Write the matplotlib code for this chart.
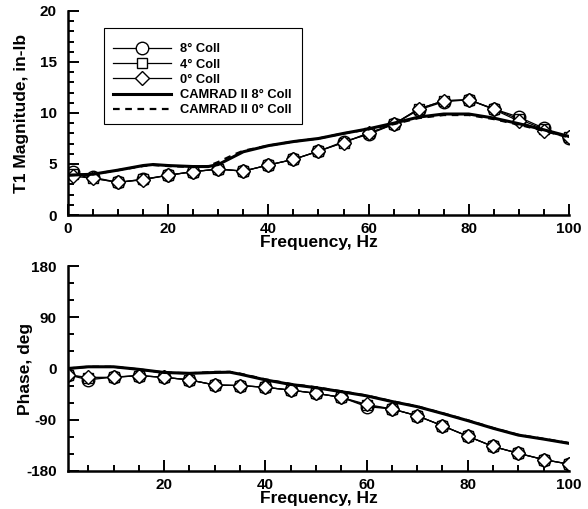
import matplotlib
matplotlib.use("Agg")
import matplotlib.pyplot as plt
from matplotlib.ticker import MultipleLocator
from matplotlib.patches import Rectangle

plt.rcParams['font.family'] = ['Liberation Sans', 'DejaVu Sans']
plt.rcParams['font.weight'] = 'bold'
plt.rcParams['axes.unicode_minus'] = False

freq = [1, 5, 10, 15, 20, 25, 30, 35, 40, 45, 50, 55, 60, 65, 70, 75, 80, 85, 90, 95, 100]

mag_8 = [4.2, 3.7, 3.2, 3.5, 3.9, 4.25, 4.5, 4.3, 4.9, 5.45, 6.25, 7.2, 7.9, 8.9, 10.3, 11.1, 11.3, 10.4, 9.6, 8.5, 7.5]
mag_4 = [4.0, 3.6, 3.2, 3.5, 3.9, 4.25, 4.5, 4.3, 4.9, 5.45, 6.25, 7.1, 8.0, 8.9, 10.4, 11.2, 11.3, 10.4, 9.4, 8.4, 7.6]
mag_0 = [3.8, 3.6, 3.2, 3.45, 3.9, 4.25, 4.5, 4.3, 4.9, 5.45, 6.27, 7.1, 8.05, 8.9, 10.4, 11.2, 11.3, 10.35, 9.2, 8.2, 7.6]

cam_f = [0, 5, 10, 15, 17, 20, 25, 28, 30, 33, 35, 40, 45, 50, 55, 60, 65, 70, 75, 80, 85, 90, 95, 100]
cam_mag_8 = [3.9, 4.0, 4.4, 4.85, 4.95, 4.85, 4.75, 4.75, 4.95, 5.7, 6.2, 6.8, 7.2, 7.5, 8.0, 8.45, 9.0, 9.6, 9.9, 9.9, 9.5, 8.95, 8.35, 7.7]
cam_mag_0 = [3.9, 4.0, 4.4, 4.8, 4.9, 4.8, 4.7, 4.8, 5.2, 5.9, 6.3, 6.8, 7.2, 7.5, 8.0, 8.4, 8.9, 9.5, 9.8, 9.8, 9.4, 8.85, 8.25, 7.6]

ph_8 = [-11, -20, -15, -12.5, -15.5, -20, -29, -30, -33, -38, -43.6, -50.6, -67, -71, -83, -100.6, -119, -137, -149, -160, -168]
ph_4 = [-11, -17, -15.5, -12.6, -15.5, -20, -29, -30, -33, -38, -43.6, -50.6, -65, -71, -83, -100.6, -119, -137, -149, -160, -168]
ph_0 = [-11.4, -15.5, -15.5, -12.6, -15.5, -20, -29, -30, -33, -38, -43.6, -50.6, -63, -71, -83, -100.6, -119, -137, -149, -160, -168]

cam_pf = [1, 5, 10, 15, 20, 25, 30, 33, 35, 40, 45, 50, 55, 60, 65, 70, 75, 80, 85, 90, 95, 100]
cam_ph_8 = [0, 3, 3, -1.5, -7, -8.5, -7, -6.5, -10, -20, -28, -33.7, -40.7, -48, -58, -67, -79, -91.6, -105, -117, -124, -131.5]
cam_ph_0 = [0, 3, 3, -1.5, -7, -8.5, -6, -6, -9, -19, -27, -33, -40, -47.5, -57.5, -66.5, -78.5, -91, -104.5, -116.5, -123.5, -131]

fig = plt.figure(figsize=(5.88, 5.09), dpi=100)
ax1 = fig.add_axes([0.1156, 0.5776, 0.8521, 0.4008])
ax2 = fig.add_axes([0.1156, 0.0747, 0.8521, 0.4027])

mk = dict(color='black', lw=0.9, markerfacecolor='white', markeredgecolor='black', markeredgewidth=1.0)

ax1.plot(freq, mag_8, marker='o', ms=9, label='8° Coll', **mk)
ax1.plot(freq, mag_4, marker='s', ms=7, label='4° Coll', **mk)
ax1.plot(freq, mag_0, marker='D', ms=7.5, label='0° Coll', **mk)
ax1.plot(cam_f, cam_mag_8, color='black', lw=2.2, label='CAMRAD II 8° Coll')
ax1.plot(cam_f, cam_mag_0, color='black', lw=1.6, ls=(0, (3, 2.5)), label='CAMRAD II 0° Coll')

ax2.plot(freq, ph_8, marker='o', ms=9, **mk)
ax2.plot(freq, ph_4, marker='s', ms=7, **mk)
ax2.plot(freq, ph_0, marker='D', ms=7.5, **mk)
ax2.plot(cam_pf, cam_ph_8, color='black', lw=2.2)
ax2.plot(cam_pf, cam_ph_0, color='black', lw=1.6, ls=(0, (3, 2.5)))

for ax in (ax1, ax2):
    for s in ('top', 'right'):
        ax.spines[s].set_visible(False)
    for s in ('left', 'bottom'):
        ax.spines[s].set_linewidth(1.8)
    ax.tick_params(which='both', direction='in', width=1.4, labelsize=11)
    ax.tick_params(axis='x', which='both', pad=5)
    ax.tick_params(axis='y', which='both', pad=8)
    ax.tick_params(which='major', length=8)
    ax.tick_params(which='minor', length=4)
    ax.xaxis.set_major_locator(MultipleLocator(20))
    ax.xaxis.set_minor_locator(MultipleLocator(5))
    ax.set_xlabel('Frequency, Hz', fontsize=12.5, fontweight='bold', labelpad=-1)

ax1.set_xlim(0, 100)
ax1.set_ylim(0, 20)
ax1.yaxis.set_major_locator(MultipleLocator(5))
ax1.yaxis.set_minor_locator(MultipleLocator(1))
ax1.set_ylabel('T1 Magnitude, in-lb', fontsize=12.5, fontweight='bold')
ax1.yaxis.set_label_coords(-0.078, 0.5)

ax2.set_xlim(1, 100)
ax2.set_xticks([20, 40, 60, 80, 100])
ax2.set_ylim(-180, 180)
ax2.yaxis.set_major_locator(MultipleLocator(90))
ax2.yaxis.set_minor_locator(MultipleLocator(30))
ax2.set_ylabel('Phase, deg', fontsize=12.5, fontweight='bold')
ax2.yaxis.set_label_coords(-0.07, 0.5)

for ax in (ax1, ax2):
    for lbl in ax.get_xticklabels() + ax.get_yticklabels():
        lbl.set_fontweight('bold')

# legend box
ax1.add_patch(Rectangle((0.0719, 0.446), 0.3951, 0.4707, transform=ax1.transAxes,
                        facecolor='white', edgecolor='black', lw=0.8, zorder=4))
leg = ax1.legend(loc='upper left', bbox_to_anchor=(0.0705, 0.889), borderaxespad=0, frameon=False,
                 handlelength=4.5, handletextpad=0.7,
                 borderpad=0.75, labelspacing=0.25, prop={'weight': 'bold', 'size': 9.3})
leg.set_zorder(5)

fig.savefig('out.png', dpi=100)
